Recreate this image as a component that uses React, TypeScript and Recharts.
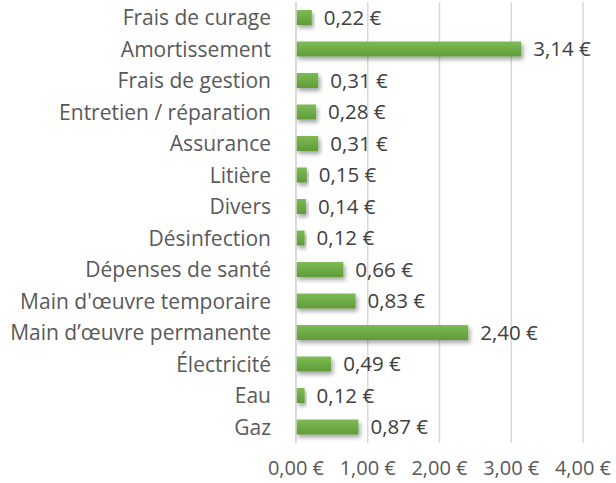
import React from 'react';
import { BarChart, Bar, XAxis, YAxis, CartesianGrid, LabelList } from 'recharts';

const categories = [
    'Frais de curage',
    'Amortissement',
    'Frais de gestion',
    'Entretien / réparation',
    'Assurance',
    'Litière',
    'Divers',
    'Désinfection',
    'Dépenses de santé',
    "Main d'œuvre temporaire",
    'Main d’œuvre permanente',
    'Électricité',
    'Eau',
    'Gaz',
];

const costs = [0.22, 3.14, 0.31, 0.28, 0.31, 0.15, 0.14, 0.12, 0.66, 0.83, 2.4, 0.49, 0.12, 0.87];

const xTicks = [0, 1, 2, 3, 4];

const euro = (v: number) => `${Number(v).toFixed(2).replace('.', ',')} €`;

const FONT = '"Open Sans", Lato, sans-serif';

const App: React.FC = () => {
    const data = categories.map((name, i) => ({ name, value: costs[i] }));

    return (
        <div style={{ position: 'absolute', left: 0, top: 0, background: '#fff' }}>
            <BarChart
                width={616}
                height={483}
                data={data}
                layout="vertical"
                margin={{ top: 2, right: 33, bottom: 0, left: 0 }}
                barCategoryGap={0}
            >
                <defs>
                    <linearGradient id="barFill" x1="0" y1="0" x2="0" y2="1">
                        <stop offset="0%" stopColor="#7dbb55" />
                        <stop offset="100%" stopColor="#5f9c38" />
                    </linearGradient>
                    <filter id="barShadow" x="-10%" y="-30%" width="130%" height="190%">
                        <feDropShadow dx="2" dy="3" stdDeviation="2" floodColor="#000" floodOpacity="0.35" />
                    </filter>
                </defs>
                <CartesianGrid horizontal={false} stroke="#d9d9d9" strokeWidth={1.5} />
                <XAxis
                    type="number"
                    domain={[0, 4]}
                    ticks={xTicks}
                    tickFormatter={euro}
                    axisLine={false}
                    tickLine={false}
                    tickMargin={12}
                    height={40}
                    tick={{ fill: '#595959', fontSize: 20, fontFamily: FONT }}
                />
                <YAxis
                    type="category"
                    dataKey="name"
                    width={296}
                    axisLine={{ stroke: '#d9d9d9', strokeWidth: 1.5 }}
                    tickLine={false}
                    tickMargin={19}
                    interval={0}
                    tick={{ fill: '#595959', fontSize: 21, fontFamily: FONT }}
                />
                <Bar
                    dataKey="value"
                    fill="url(#barFill)"
                    barSize={15}
                    filter="url(#barShadow)"
                    isAnimationActive={false}
                >
                    <LabelList
                        dataKey="value"
                        position="right"
                        offset={12}
                        formatter={(v: number) => euro(v)}
                        style={{ fill: '#404040', fontSize: 20.5, fontFamily: FONT }}
                    />
                </Bar>
            </BarChart>
        </div>
    );
};

export default App;
